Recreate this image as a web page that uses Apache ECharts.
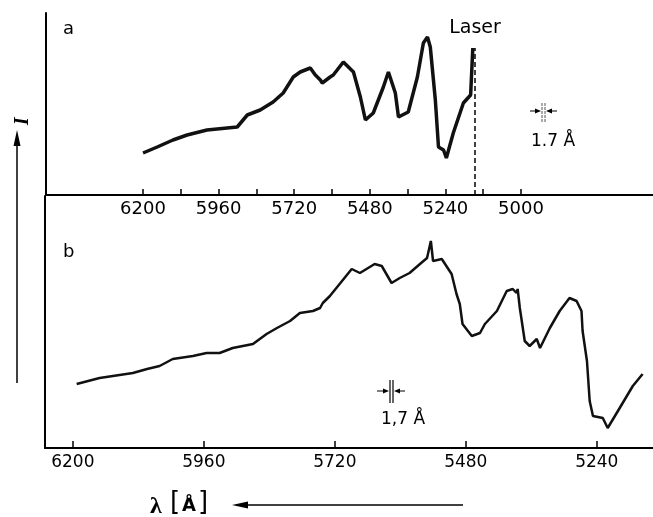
<!DOCTYPE html>
<html>
<head>
<meta charset="utf-8">
<script src="https://cdn.jsdelivr.net/npm/echarts@6/dist/echarts.min.js"></script>
<style>
  html, body { margin: 0; padding: 0; background: #fff; }
  #chart { width: 653px; height: 517px; }
</style>
</head>
<body>
<div id="chart"></div>
<script>
// spectrum a (with laser line)
var aWave = [6200, 6155, 6105, 6060, 5997, 5933, 5901, 5869, 5828, 5787, 5755, 5723, 5701, 5669, 5653, 5637, 5631, 5606, 5596, 5564, 5532, 5510, 5494, 5469, 5437, 5421, 5399, 5389, 5358, 5329, 5310, 5297, 5288, 5272, 5262, 5246, 5237, 5215, 5183, 5160, 5155, 5153];
var aInt  = [42, 48, 55, 60, 65, 67, 68, 80, 85, 93, 102, 118, 123, 127, 120, 115, 112, 118, 120, 133, 123, 98, 75, 82, 108, 123, 102, 78, 83, 118, 152, 158, 148, 95, 48, 45, 37, 62, 92, 100, 98, 147];
// spectrum b
var bWave = [6193, 6151, 6090, 6064, 6041, 6017, 5980, 5955, 5931, 5907, 5870, 5845, 5826, 5802, 5784, 5760, 5747, 5742, 5729, 5689, 5674, 5647, 5634, 5616, 5601, 5583, 5564, 5551, 5544, 5540, 5524, 5506, 5497, 5491, 5486, 5469, 5454, 5445, 5423, 5405, 5394, 5387, 5385, 5381, 5372, 5363, 5350, 5344, 5326, 5308, 5290, 5277, 5268, 5266, 5258, 5253, 5247, 5229, 5220, 5198, 5174, 5156];
var bInt  = [64, 70, 75, 79, 82, 89, 92, 95, 95, 100, 104, 114, 120, 127, 135, 137, 140, 145, 152, 179, 175, 184, 182, 165, 170, 175, 184, 190, 207, 187, 189, 174, 154, 144, 124, 112, 115, 124, 137, 157, 159, 155, 159, 140, 107, 102, 109, 100, 120, 137, 150, 147, 137, 117, 87, 47, 32, 30, 20, 40, 62, 74];

var aLabels = [6200, 5960, 5720, 5480, 5240, 5000];
var aTicks = [6200, 6080, 5960, 5840, 5720, 5600, 5480, 5360, 5240, 5120, 5000];
var bLabels = [6200, 5960, 5720, 5480, 5240];
var laserWave = 5148;
var laserTop = 147;

var font = 'DejaVu Sans';

function pairs(x, y) {
  var out = [];
  for (var i = 0; i < x.length; i++) out.push([x[i], y[i]]);
  return out;
}
function plain(v) { return String(v); }

var chart = echarts.init(document.getElementById('chart'));
var option = {
  backgroundColor: '#fff',
  animation: false,
  grid: [
    {left: 46, top: 13, width: 607, height: 182},
    {left: 45, top: 196, width: 608, height: 252}
  ],
  xAxis: [
    {
      gridIndex: 0, type: 'value', inverse: true, min: 4581, max: 6508,
      axisLine: {lineStyle: {color: '#000', width: 2}},
      axisTick: {inside: true, length: 6, customValues: aTicks, lineStyle: {color: '#000', width: 1.5}},
      axisLabel: {customValues: aLabels, formatter: plain, margin: 5, color: '#000', fontFamily: font, fontSize: 18},
      splitLine: {show: false}
    },
    {
      gridIndex: 1, type: 'value', inverse: true, min: 5137, max: 6251,
      axisLine: {lineStyle: {color: '#000', width: 2}},
      axisTick: {inside: true, length: 7, customValues: bLabels, lineStyle: {color: '#000', width: 1.5}},
      axisLabel: {customValues: bLabels, formatter: plain, margin: 6, color: '#000', fontFamily: font, fontSize: 17},
      splitLine: {show: false}
    }
  ],
  yAxis: [
    {
      gridIndex: 0, type: 'value', min: 0, max: 182,
      axisLine: {show: true, lineStyle: {color: '#000', width: 2}},
      axisTick: {show: false}, axisLabel: {show: false}, splitLine: {show: false}
    },
    {
      gridIndex: 1, type: 'value', min: 0, max: 252,
      axisLine: {show: true, lineStyle: {color: '#000', width: 2}},
      axisTick: {show: false}, axisLabel: {show: false}, splitLine: {show: false}
    }
  ],
  series: [
    {
      name: 'a', type: 'line', xAxisIndex: 0, yAxisIndex: 0,
      data: pairs(aWave, aInt), showSymbol: false,
      lineStyle: {color: '#111', width: 3.5},
      markLine: {
        silent: true, symbol: 'none', label: {show: false},
        lineStyle: {color: '#000', type: [5, 3], width: 1.5},
        data: [[{coord: [laserWave, 0]}, {coord: [laserWave, laserTop]}]]
      }
    },
    {
      name: 'b', type: 'line', xAxisIndex: 1, yAxisIndex: 1,
      data: pairs(bWave, bInt), showSymbol: false,
      lineStyle: {color: '#111', width: 2.5}
    }
  ],
  graphic: [
    {type: 'text', left: 63, top: 20, style: {text: 'a', font: '18px "DejaVu Sans"', fill: '#000'}},
    {type: 'text', left: 63, top: 243, style: {text: 'b', font: '18px "DejaVu Sans"', fill: '#000'}},
    {type: 'text', x: 475, y: 28, style: {text: 'Laser', font: '19px "DejaVu Sans"', fill: '#000', align: 'center', verticalAlign: 'middle'}},
    // resolution marker, panel a
    {type: 'line', shape: {x1: 542, y1: 103, x2: 542, y2: 122}, style: {stroke: '#555', lineWidth: 1, lineDash: [3, 1]}},
    {type: 'line', shape: {x1: 545, y1: 103, x2: 545, y2: 122}, style: {stroke: '#555', lineWidth: 1, lineDash: [3, 1]}},
    {type: 'line', shape: {x1: 530, y1: 111, x2: 537, y2: 111}, style: {stroke: '#000', lineWidth: 1}},
    {type: 'polygon', shape: {points: [[541, 111], [535, 108.5], [535, 113.5]]}, style: {fill: '#000'}},
    {type: 'line', shape: {x1: 557, y1: 111, x2: 550, y2: 111}, style: {stroke: '#000', lineWidth: 1}},
    {type: 'polygon', shape: {points: [[546, 111], [552, 108.5], [552, 113.5]]}, style: {fill: '#000'}},
    {type: 'text', x: 553, y: 142, style: {text: '1.7 Å', font: '17px "DejaVu Sans"', fill: '#000', align: 'center', verticalAlign: 'middle'}},
    // resolution marker, panel b
    {type: 'line', shape: {x1: 390, y1: 380, x2: 390, y2: 403}, style: {stroke: '#000', lineWidth: 1.2}},
    {type: 'line', shape: {x1: 393, y1: 380, x2: 393, y2: 403}, style: {stroke: '#000', lineWidth: 1.2}},
    {type: 'line', shape: {x1: 377, y1: 391, x2: 384, y2: 391}, style: {stroke: '#000', lineWidth: 1}},
    {type: 'polygon', shape: {points: [[389, 391], [383, 388.5], [383, 393.5]]}, style: {fill: '#000'}},
    {type: 'line', shape: {x1: 405, y1: 391, x2: 399, y2: 391}, style: {stroke: '#000', lineWidth: 1}},
    {type: 'polygon', shape: {points: [[394, 391], [400, 388.5], [400, 393.5]]}, style: {fill: '#000'}},
    {type: 'text', x: 403, y: 420, style: {text: '1,7 Å', font: '17px "DejaVu Sans"', fill: '#000', align: 'center', verticalAlign: 'middle'}},
    // intensity arrow
    {type: 'line', shape: {x1: 17, y1: 383, x2: 17, y2: 142}, style: {stroke: '#000', lineWidth: 1.5}},
    {type: 'polygon', shape: {points: [[17, 130], [13.5, 146], [20.5, 146]]}, style: {fill: '#000'}},
    {
      type: 'text', x: 19, y: 121, rotation: -Math.PI / 2, originX: 0, originY: 0,
      style: {text: 'I', font: 'italic bold 20px "Liberation Serif"', fill: '#000', align: 'center', verticalAlign: 'middle'}
    },
    // wavelength arrow
    {type: 'text', x: 156, y: 507, style: {text: 'λ', font: 'bold 24px "Liberation Serif"', fill: '#000', align: 'center', verticalAlign: 'middle'}},
    {type: 'text', x: 175, y: 503, style: {text: '[', font: '26px "DejaVu Sans"', fill: '#000', align: 'center', verticalAlign: 'middle'}},
    {type: 'text', x: 189, y: 506, style: {text: 'Å', font: 'bold 18px "DejaVu Sans"', fill: '#000', align: 'center', verticalAlign: 'middle'}},
    {type: 'text', x: 203, y: 503, style: {text: ']', font: '26px "DejaVu Sans"', fill: '#000', align: 'center', verticalAlign: 'middle'}},
    {type: 'line', shape: {x1: 463, y1: 505, x2: 244, y2: 505}, style: {stroke: '#000', lineWidth: 1.5}},
    {type: 'polygon', shape: {points: [[232, 505], [248, 501.5], [248, 508.5]]}, style: {fill: '#000'}}
  ]
};
chart.setOption(option);
</script>
</body>
</html>
